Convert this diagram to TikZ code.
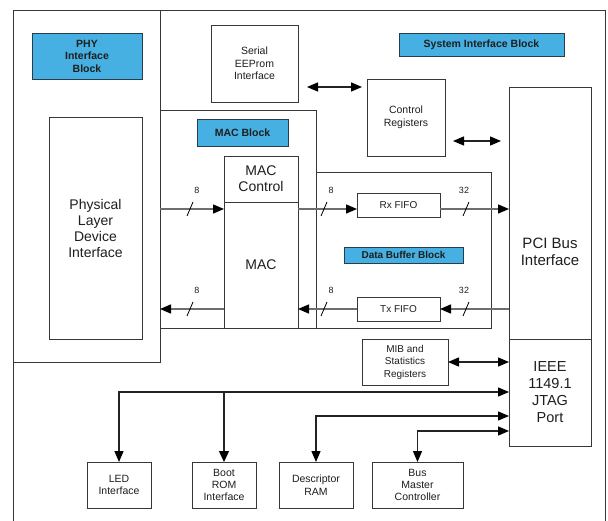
\documentclass[tikz,border=0pt]{standalone}
\usepackage{fontspec}
\setmainfont{Liberation Sans}
\usetikzlibrary{arrows.meta}
\definecolor{blk}{RGB}{69,176,225}
\definecolor{tagedge}{RGB}{40,60,75}
\definecolor{edge}{RGB}{55,55,55}
\definecolor{txt}{RGB}{30,30,30}
\definecolor{linec}{RGB}{110,110,110}
\definecolor{linek}{RGB}{35,35,35}
\begin{document}
\begin{tikzpicture}[x=1pt,y=-1pt,
  bx/.style={draw=edge,line width=0.9pt,fill=white,inner sep=0pt,outer sep=0pt,align=center,text=txt},
  region/.style={draw=edge,line width=0.9pt,inner sep=0pt,outer sep=0pt},
  tag/.style={draw=tagedge,line width=0.9pt,fill=blk,inner sep=0pt,outer sep=0pt,align=center,text=txt,font=\bfseries\fontsize{10.5}{12.5}\selectfont},
  big/.style={font=\fontsize{14}{16}\selectfont},
  small/.style={font=\fontsize{10.5}{12.5}\selectfont},
  width/.style={font=\fontsize{9}{10}\selectfont,text=txt},
  flow/.style={line width=1.4pt,draw=linec,-{Triangle[length=11pt,width=9pt,color=black]}},
  link/.style={line width=1.3pt,draw=linek,{Triangle[length=11pt,width=9pt,color=black]}-{Triangle[length=11pt,width=9pt,color=black]}},
  drop/.style={line width=1.3pt,draw=linek,-{Triangle[length=11pt,width=10pt,color=black]}},
  slash/.style={line width=0.8pt,draw=black}]
\useasboundingbox (0,0) rectangle (608,521);
\fill[white] (0,0) rectangle (608,521);

% outer frame
\coordinate (fbl) at (13,521);
\coordinate (ftl) at (13,10);
\coordinate (ftr) at (605,10);
\coordinate (fbr) at (605,521);
\draw[region] (fbl) -- (ftl) -- (ftr) -- (fbr);

% regions
\node[region,minimum width=147pt,minimum height=352pt] (phyblk) at (86.5,186) {};
\node[region,minimum width=156pt,minimum height=218pt] (macblk) at (238,219) {};
\node[region,minimum width=175pt,minimum height=156pt] (dbb) at (403.5,250) {};

% tags
\node[tag,minimum width=110pt,minimum height=46pt] (phytag) at (87,56) {PHY\\Interface\\Block};
\node[tag,minimum width=91pt,minimum height=27pt] (mactag) at (242.5,132.5) {MAC Block};
\node[tag,minimum width=165pt,minimum height=23pt] (systag) at (481.5,44.5) {System Interface Block};
\node[tag,minimum width=119pt,minimum height=16pt,font=\bfseries\fontsize{10}{12}\selectfont] (dbbtag) at (403.5,255) {Data Buffer Block};

% boxes
\node[bx,big,minimum width=93pt,minimum height=222pt] (pldi) at (95.5,228) {Physical\\Layer\\Device\\Interface};
\node[bx,small,minimum width=87pt,minimum height=77pt] (eeprom) at (254.5,63.5) {Serial\\EEProm\\Interface};
\node[bx,big,minimum width=74pt,minimum height=46pt] (macctl) at (261,179) {MAC\\Control};
\node[bx,big,minimum width=74pt,minimum height=126pt] (mac) at (261,265) {MAC};
\node[bx,font=\fontsize{10}{12}\selectfont,minimum width=83pt,minimum height=24pt] (rxfifo) at (398.5,205) {Rx FIFO};
\node[bx,font=\fontsize{10}{12}\selectfont,minimum width=83pt,minimum height=24pt] (txfifo) at (398.5,309) {Tx FIFO};
\node[bx,small,minimum width=78pt,minimum height=77pt] (ctlreg) at (406,117.5) {Control\\Registers};
\node[bx,font=\fontsize{15}{16.5}\selectfont,minimum width=82pt,minimum height=330pt] (pci) at (550,252) {PCI Bus\\Interface};
\node[bx,font=\fontsize{14.5}{17}\selectfont,minimum width=82pt,minimum height=107pt] (ieee) at (550,392.5) {IEEE\\1149.1\\JTAG\\Port};
\node[bx,font=\fontsize{10}{12.5}\selectfont,minimum width=86pt,minimum height=46pt] (mib) at (405,362) {MIB and\\Statistics\\Registers};
\node[bx,small,minimum width=64pt,minimum height=46pt] (led) at (119,485) {LED\\Interface};
\node[bx,font=\fontsize{10.5}{12}\selectfont,minimum width=64pt,minimum height=46pt] (bootrom) at (224,485) {Boot\\ROM\\Interface};
\node[bx,small,minimum width=74pt,minimum height=46pt] (descram) at (316,485) {Descriptor\\RAM};
\node[bx,font=\fontsize{10.5}{12}\selectfont,minimum width=91pt,minimum height=46pt] (busmaster) at (417.5,485) {Bus\\Master\\Controller};

% free ends
\coordinate (e1) at (307,87);
\coordinate (e2) at (362,87);
\coordinate (c1) at (453,141);
\coordinate (c2) at (501,141);
\draw[link] (e1) -- (e2);
\draw[link] (c1) -- (c2);

% data path
\coordinate (rxl) at (0,209);
\coordinate (txl) at (0,309);
\draw[flow] (phyblk.east |- rxl) -- (mac.west |- rxl);
\draw[flow] (mac.east |- rxl) -- (rxfifo.west |- rxl);
\draw[flow] (rxfifo.east |- rxl) -- (pci.west |- rxl);
\draw[flow] (pci.west |- txl) -- (txfifo.east);
\draw[flow] (txfifo.west) -- (mac.east |- txl);
\draw[flow] (mac.west |- txl) -- (phyblk.east |- txl);

% bus width marks
\foreach \x in {190,324,466}{
  \draw[slash] (\x-3,216) -- (\x+3,202);
  \draw[slash] (\x-3,316) -- (\x+3,302);
}
\node[width] (w1) at (197,190) {8};
\node[width] (w2) at (331,190) {8};
\node[width] (w3) at (464,190) {32};
\node[width] (w4) at (197,290) {8};
\node[width] (w5) at (331,290) {8};
\node[width] (w6) at (464,290) {32};

% lower connectors
\draw[link] (mib.east) -- (ieee.west |- mib.east);
\coordinate (b1) at (0,392);
\coordinate (b2) at (0,416);
\coordinate (b3) at (0,431);
\draw[link] (led.north) |- (ieee.west |- b1);
\draw[drop] (bootrom.north |- b1) -- (bootrom.north);
\draw[link] (descram.north) |- (ieee.west |- b2);
\draw[link] (busmaster.north) |- (ieee.west |- b3);
\end{tikzpicture}
\end{document}
